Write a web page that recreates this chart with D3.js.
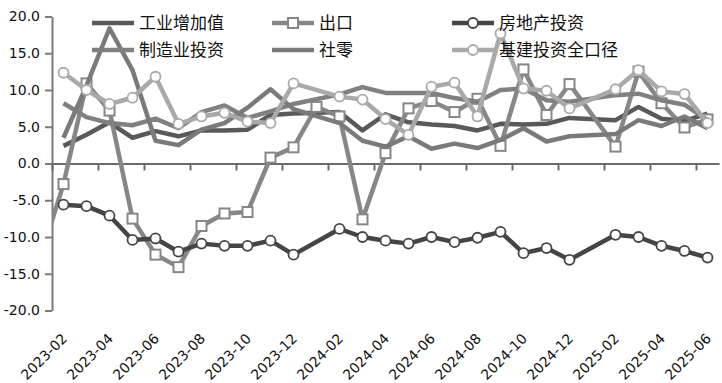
<!DOCTYPE html>
<html>
<head>
<meta charset="utf-8">
<script src="https://cdn.jsdelivr.net/npm/d3@7"></script>
<style>
  body { margin: 0; background: #fff; }
  svg text { font-family: "DejaVu Sans", Verdana, sans-serif; fill: #111; }
  .legend text { font-family: "Noto Sans CJK SC", sans-serif; }
</style>
</head>
<body>
<div id="plot"></div>
<script>
// Months on the category axis (2023-01 sits just left of the plot and gets clipped)
var months = ["2023-01", "2023-02", "2023-03", "2023-04", "2023-05", "2023-06", "2023-07", "2023-08",
  "2023-09", "2023-10", "2023-11", "2023-12", "2024-01", "2024-02", "2024-03", "2024-04", "2024-05",
  "2024-06", "2024-07", "2024-08", "2024-09", "2024-10", "2024-11", "2024-12", "2025-01", "2025-02",
  "2025-03", "2025-04", "2025-05", "2025-06"];

var yTicks = [-20, -15, -10, -5, 0, 5, 10, 15, 20];

// Series values (%), null = no data that month
var industry = [null, 2.4, 3.9, 5.6, 3.5, 4.4, 3.7, 4.5, 4.5, 4.6, 6.6, 6.8, null, 7.0, 4.5, 6.7,
  5.6, 5.3, 5.1, 4.5, 5.4, 5.3, 5.4, 6.2, null, 5.9, 7.7, 6.1, 5.8, 6.8];
var exports = [-12.8, -2.8, 10.9, 7.2, -7.5, -12.4, -14.1, -8.5, -6.8, -6.6, 0.8, 2.2, 7.7, 6.4, -7.6, 1.4,
  7.5, 8.5, 7.0, 8.8, 2.4, 12.8, 6.6, 10.8, null, 2.3, 12.5, 8.2, 4.9, 6.0];
var realEstate = [null, -5.6, -5.8, -7.1, -10.4, -10.2, -12.0, -10.9, -11.2, -11.2, -10.5, -12.4, null, -8.9, -10.0, -10.5,
  -10.9, -10.0, -10.7, -10.1, -9.3, -12.2, -11.5, -13.1, null, -9.7, -10.0, -11.2, -11.9, -12.8];
var manufacturing = [null, 8.2, 6.3, 5.5, 5.2, 6.1, 4.8, 7.0, 7.9, 6.2, 7.1, 8.1, null, 9.4, 10.4, 9.6,
  9.6, 9.6, 8.9, 8.4, 10.0, 10.2, 8.6, 8.4, null, 9.3, 9.5, 8.6, 8.0, 5.9];
var retail = [null, 3.5, 10.6, 18.4, 12.7, 3.1, 2.5, 4.6, 5.5, 7.6, 10.1, 7.4, null, 5.5, 3.1, 2.3,
  3.7, 2.0, 2.7, 2.1, 3.2, 4.8, 3.0, 3.7, null, 4.0, 5.9, 5.1, 6.4, 4.8];
var infra = [null, 12.35, 10.0, 8.1, 8.95, 11.8, 5.4, 6.4, 6.9, 5.7, 5.5, 10.9, null, 9.1, 8.7, 6.05,
  3.9, 10.45, 11.0, 6.4, 17.7, 10.2, 9.9, 7.5, null, 10.1, 12.7, 9.8, 9.45, 5.5];

// series in draw order, with their look
var series = [
  { name: "工业增加值", values: industry, color: "#595959", marker: "none", col: 0, row: 0 },
  { name: "出口", values: exports, color: "#878787", marker: "square", col: 1, row: 0 },
  { name: "房地产投资", values: realEstate, color: "#454545", marker: "circle", col: 2, row: 0 },
  { name: "制造业投资", values: manufacturing, color: "#808080", marker: "none", col: 0, row: 1 },
  { name: "社零", values: retail, color: "#7a7a7a", marker: "none", col: 1, row: 1 },
  { name: "基建投资全口径", values: infra, color: "#a9a9a9", marker: "circle", col: 2, row: 1 }
];

var svgWidth = 722;
var svgHeight = 383;

var margin = { top: 16.5, right: 3, bottom: 72.5, left: 52 };
var width = svgWidth - margin.left - margin.right;
var height = svgHeight - margin.top - margin.bottom;

var svg = d3.select("#plot")
  .append("svg")
  .attr("width", svgWidth)
  .attr("height", svgHeight)
  .style("background", "#fff");

var chartGroup = svg.append("g")
  .attr("transform", `translate(${margin.left}, ${margin.top})`);

// categories centred in their slots
var xScale = d3.scaleLinear()
  .domain([0.5, months.length - 0.5])
  .range([0, width]);

var yScale = d3.scaleLinear()
  .domain([-20, 20])
  .range([height, 0]);

// clip so the 2023-01 piece stops at the y axis
svg.append("defs").append("clipPath")
  .attr("id", "clip")
  .append("rect")
  .attr("x", 0)
  .attr("y", -margin.top)
  .attr("width", width + margin.right)
  .attr("height", svgHeight);

// y axis
var leftAxis = d3.axisLeft(yScale)
  .tickValues(yTicks)
  .tickSize(7)
  .tickSizeOuter(0)
  .tickPadding(5)
  .tickFormat(d => d.toFixed(1));

var yAxis = chartGroup.append("g").call(leftAxis);
yAxis.select(".domain").attr("stroke", "#7a7a7a").attr("stroke-width", 2);
yAxis.selectAll(".tick line").attr("stroke", "#7a7a7a").attr("stroke-width", 2);
yAxis.selectAll("text").attr("font-size", "14px").attr("fill", "#111");

// x axis on the zero line, tick marks every two months
var bottomAxis = d3.axisBottom(xScale)
  .tickValues(d3.range(0.5, months.length - 1, 2))
  .tickSize(7)
  .tickSizeOuter(0)
  .tickFormat("");

var xAxis = chartGroup.append("g")
  .attr("transform", `translate(0, ${yScale(0)})`)
  .call(bottomAxis);
xAxis.select(".domain").attr("stroke", "#6a6a6a").attr("stroke-width", 2);
xAxis.selectAll(".tick line").attr("stroke", "#6a6a6a").attr("stroke-width", 2);

// month labels along the bottom, slanted
var labelAxis = d3.axisBottom(xScale)
  .tickValues(d3.range(1, months.length, 2))
  .tickSize(0)
  .tickFormat(i => months[i]);

var labels = chartGroup.append("g")
  .attr("transform", `translate(0, ${height})`)
  .call(labelAxis);
labels.select(".domain").remove();
labels.selectAll("text")
  .attr("x", 0)
  .attr("y", 0)
  .attr("dy", 0)
  .attr("font-size", "14px")
  .attr("fill", "#111")
  .attr("text-anchor", "end")
  .attr("transform", "translate(4, 29) rotate(-45)");

// lines (gaps are bridged, like the source chart)
var plotGroup = chartGroup.append("g").attr("clip-path", "url(#clip)");

var line = d3.line()
  .x(d => xScale(d.i))
  .y(d => yScale(d.v));

series.forEach(function(s) {
  var pts = s.values.map((v, i) => ({ i: i, v: v })).filter(d => d.v !== null);

  plotGroup.append("path")
    .datum(pts)
    .attr("d", line)
    .attr("fill", "none")
    .attr("stroke", s.color)
    .attr("stroke-width", 4.5)
    .attr("stroke-linejoin", "round");

  if (s.marker === "circle") {
    plotGroup.selectAll(null)
      .data(pts.filter(d => d.i > 0))
      .enter()
      .append("circle")
      .attr("cx", d => xScale(d.i))
      .attr("cy", d => yScale(d.v))
      .attr("r", 5)
      .attr("fill", "#fff")
      .attr("stroke", s.color)
      .attr("stroke-width", 1.8);
  }
  else if (s.marker === "square") {
    plotGroup.selectAll(null)
      .data(pts.filter(d => d.i > 0))
      .enter()
      .append("rect")
      .attr("x", d => xScale(d.i) - 5)
      .attr("y", d => yScale(d.v) - 5)
      .attr("width", 10)
      .attr("height", 10)
      .attr("fill", "#fff")
      .attr("stroke", s.color)
      .attr("stroke-width", 2);
  }
});

// legend, 3 columns x 2 rows
var legendCols = [92, 272, 452];
var legendRows = [23, 50];

var legend = svg.append("g").attr("class", "legend");

series.forEach(function(s) {
  var lx = legendCols[s.col];
  var ly = legendRows[s.row];
  var item = legend.append("g");

  item.append("line")
    .attr("x1", lx)
    .attr("x2", lx + 42)
    .attr("y1", ly)
    .attr("y2", ly)
    .attr("stroke", s.color)
    .attr("stroke-width", 4.5);

  if (s.marker === "circle") {
    item.append("circle")
      .attr("cx", lx + 21)
      .attr("cy", ly)
      .attr("r", 5)
      .attr("fill", "#fff")
      .attr("stroke", s.color)
      .attr("stroke-width", 1.8);
  }
  else if (s.marker === "square") {
    item.append("rect")
      .attr("x", lx + 16)
      .attr("y", ly - 5)
      .attr("width", 10)
      .attr("height", 10)
      .attr("fill", "#fff")
      .attr("stroke", s.color)
      .attr("stroke-width", 2);
  }

  item.append("text")
    .attr("x", lx + 47)
    .attr("y", ly)
    .attr("dy", "0.35em")
    .attr("font-size", "17px")
    .attr("fill", "#111")
    .text(s.name);
});
</script>
</body>
</html>
